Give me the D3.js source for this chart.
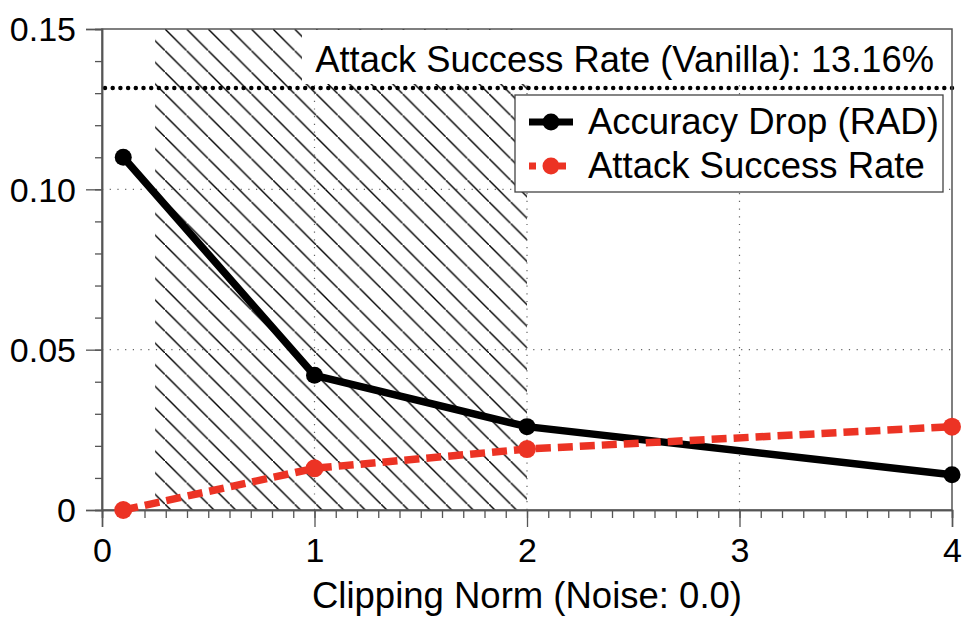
<!DOCTYPE html>
<html>
<head>
<meta charset="utf-8">
<script src="https://cdn.jsdelivr.net/npm/d3@7"></script>
<style>
  body { margin: 0; background: #fff; }
  svg text { font-family: "Liberation Sans", Arial, Helvetica, sans-serif; fill: #000; }
</style>
</head>
<body>
<div id="chart"></div>
<script>
// data
const clipNorms = [0.1, 1, 2, 4];
const accuracyDrop = [0.110, 0.042, 0.026, 0.011];
const attackSuccess = [0.000, 0.013, 0.019, 0.026];
const vanillaRate = 0.1316;
const shadedRange = [0.25, 2];
const xTicks = [0, 1, 2, 3, 4];
const yTicks = [0, 0.05, 0.10, 0.15];
const yTickLabels = ["0", "0.05", "0.10", "0.15"];

const width = 969, height = 637;
const margin = { top: 29, right: 17, bottom: 127, left: 102 };
const red = "#ec3324";

const svg = d3.select("#chart").append("svg")
    .attr("width", width)
    .attr("height", height);

const x = d3.scaleLinear().domain([0, 4]).range([margin.left, width - margin.right]);
const y = d3.scaleLinear().domain([0, 0.15]).range([height - margin.bottom, margin.top]);

const defs = svg.append("defs");
const hw = 21.6;
defs.append("pattern")
    .attr("id", "hatch")
    .attr("patternUnits", "userSpaceOnUse")
    .attr("x", 165).attr("y", margin.top)
    .attr("width", hw).attr("height", hw)
    .append("path")
    .attr("d", `M-2,-2L2,2M0,0L${hw},${hw}M${hw - 2},${hw - 2}L${hw + 2},${hw + 2}`)
    .attr("stroke", "#000")
    .attr("stroke-width", 1.4);

// hatched region
svg.append("rect")
    .attr("x", x(shadedRange[0]))
    .attr("y", y(0.15))
    .attr("width", x(shadedRange[1]) - x(shadedRange[0]))
    .attr("height", y(0) - y(0.15))
    .attr("fill", "url(#hatch)");

// dotted grid
const grid = svg.append("g")
    .attr("stroke", "#666")
    .attr("stroke-width", 1.2)
    .attr("stroke-dasharray", "1.2,6.5");
grid.selectAll("line.v")
    .data([1, 2, 3])
    .enter().append("line")
    .attr("x1", d => x(d)).attr("x2", d => x(d))
    .attr("y1", y(0)).attr("y2", y(0.15));
grid.selectAll("line.h")
    .data([0.05, 0.10])
    .enter().append("line")
    .attr("x1", x(0)).attr("x2", x(4))
    .attr("y1", d => y(d)).attr("y2", d => y(d));

// white box behind the vanilla label
svg.append("rect")
    .attr("x", 302)
    .attr("y", y(0.15) + 1)
    .attr("width", x(4) - 302)
    .attr("height", 54)
    .attr("fill", "#fff");

// vanilla line
svg.append("line")
    .attr("x1", x(0) + 3).attr("x2", x(4))
    .attr("y1", y(vanillaRate)).attr("y2", y(vanillaRate))
    .attr("stroke", "#000")
    .attr("stroke-width", 4.5)
    .attr("stroke-linecap", "round")
    .attr("stroke-dasharray", "0,7.7");

svg.append("text")
    .attr("x", 934)
    .attr("y", 72)
    .attr("text-anchor", "end")
    .style("font-size", "36.3px")
    .text("Attack Success Rate (Vanilla): " + (vanillaRate * 100).toFixed(2) + "%");

// axes
const xAxis = svg.append("g").attr("transform", `translate(0,${y(0)})`);
xAxis.call(d3.axisBottom(x).tickValues(d3.range(0, 4.001, 0.1)).tickSize(8).tickFormat(""));
xAxis.call(g => g.append("g").call(d3.axisBottom(x).tickValues(xTicks).tickSize(17).tickFormat(d3.format("d"))));
xAxis.selectAll("text").style("font-size", "34px").attr("dy", "0").attr("y", 52);

const yAxis = svg.append("g").attr("transform", `translate(${x(0)},0)`);
yAxis.call(d3.axisLeft(y).tickValues(d3.range(0, 0.1501, 0.01)).tickSize(7).tickFormat(""));
yAxis.call(g => g.append("g").call(d3.axisLeft(y).tickValues(yTicks).tickSize(16)
    .tickFormat((d, i) => yTickLabels[i])));
yAxis.selectAll("text").style("font-size", "34px").attr("x", -26).attr("dy", "0.35em");
svg.selectAll(".domain").attr("stroke", "#555").attr("stroke-width", 1.5);
svg.selectAll(".tick line").attr("stroke", "#555").attr("stroke-width", 1.3);

// frame
svg.append("rect")
    .attr("x", x(0)).attr("y", y(0.15))
    .attr("width", x(4) - x(0)).attr("height", y(0) - y(0.15))
    .attr("fill", "none")
    .attr("stroke", "#555")
    .attr("stroke-width", 1.5);

// series
const line = d3.line().x(d => x(d[0])).y(d => y(d[1]));
const redPts = clipNorms.map((c, i) => [c, attackSuccess[i]]);
const blackPts = clipNorms.map((c, i) => [c, accuracyDrop[i]]);

svg.append("path")
    .datum(blackPts)
    .attr("d", line)
    .attr("fill", "none")
    .attr("stroke", "#000")
    .attr("stroke-width", 7.5);
svg.append("g").selectAll("circle")
    .data(blackPts)
    .enter().append("circle")
    .attr("cx", d => x(d[0])).attr("cy", d => y(d[1]))
    .attr("r", 8.5)
    .attr("fill", "#000");

svg.append("path")
    .datum(redPts)
    .attr("d", line)
    .attr("fill", "none")
    .attr("stroke", red)
    .attr("stroke-width", 7.5)
    .attr("stroke-dasharray", "15,7");
svg.append("g").selectAll("circle")
    .data(redPts)
    .enter().append("circle")
    .attr("cx", d => x(d[0])).attr("cy", d => y(d[1]))
    .attr("r", 9)
    .attr("fill", red);

// legend
const legend = svg.append("g");
legend.append("rect")
    .attr("x", 515).attr("y", 95)
    .attr("width", 428).attr("height", 97)
    .attr("fill", "#fff")
    .attr("stroke", "#444")
    .attr("stroke-width", 1.3);

const legendItems = [
    { label: "Accuracy Drop (RAD)", color: "#000", dash: null, y: 122 },
    { label: "Attack Success Rate", color: red, dash: "7,8", y: 166 }
];
legendItems.forEach(item => {
    legend.append("line")
        .attr("x1", 529).attr("x2", 573)
        .attr("y1", item.y).attr("y2", item.y)
        .attr("stroke", item.color)
        .attr("stroke-width", 7)
        .attr("stroke-dasharray", item.dash);
    legend.append("circle")
        .attr("cx", 551).attr("cy", item.y)
        .attr("r", 8.5)
        .attr("fill", item.color);
    legend.append("text")
        .attr("x", 588).attr("y", item.y + 12)
        .style("font-size", "36.5px")
        .text(item.label);
});

// axis title
svg.append("text")
    .attr("x", (x(0) + x(4)) / 2)
    .attr("y", 608)
    .attr("text-anchor", "middle")
    .style("font-size", "36.5px")
    .text("Clipping Norm (Noise: 0.0)");
</script>
</body>
</html>
